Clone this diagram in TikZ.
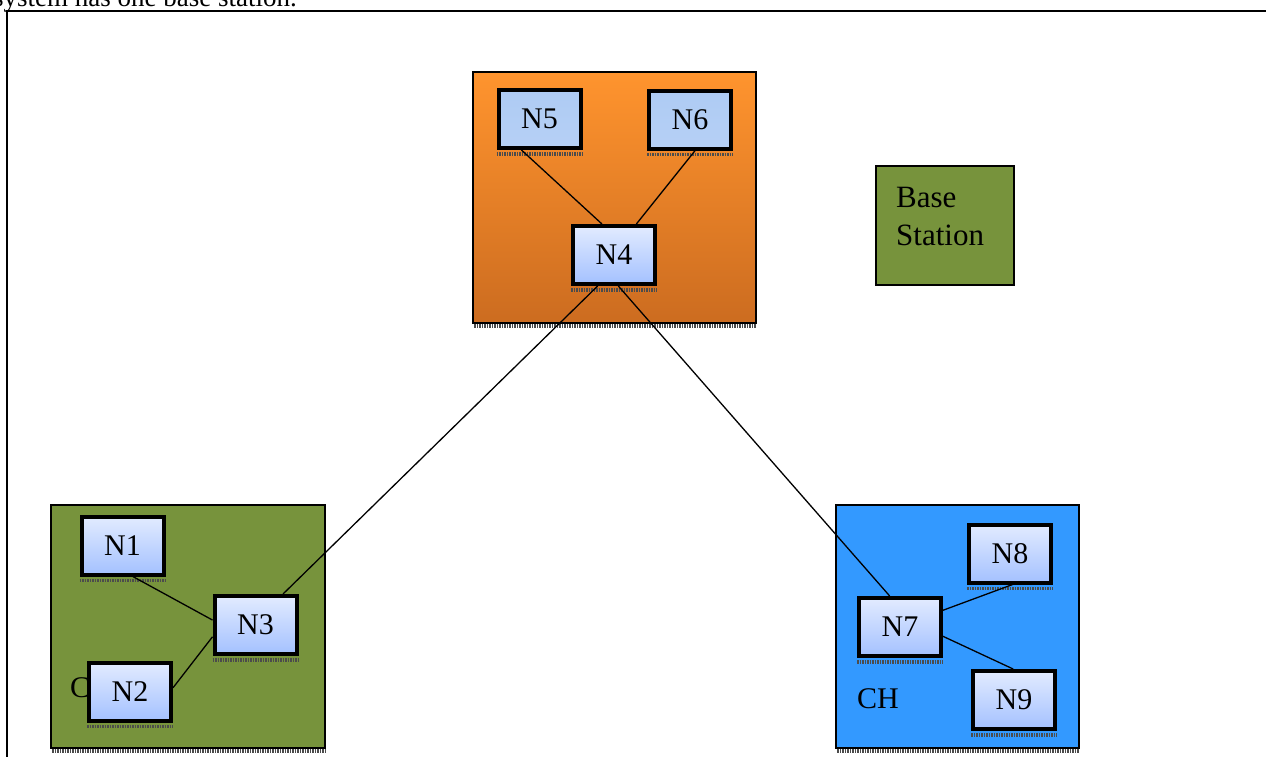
\documentclass[tikz,border=0pt]{standalone}
\usepackage{fontspec}
\setmainfont{Liberation Serif}
\usetikzlibrary{calc}
\definecolor{olive}{HTML}{77933C}
\definecolor{skyblue}{HTML}{3399FF}
\definecolor{orangetop}{HTML}{FF942E}
\definecolor{orangebot}{HTML}{CC6C20}
\definecolor{nodetop}{HTML}{E2EBFF}
\definecolor{nodebot}{HTML}{A4C1FF}
\definecolor{texblue}{HTML}{AECBF4}
\tikzset{
  cluster/.style={draw=black, line width=1.3pt},
  sensor/.style={draw=black, line width=4pt, top color=nodetop, bottom color=nodebot,
    minimum width=82pt, minimum height=58pt, inner sep=0pt, font=\fontsize{30}{34}\selectfont},
  leaf/.style={sensor, fill=texblue, top color=texblue, bottom color=texblue!90!white},
  shadowline/.style={gray!60!black, line width=3.5pt, dash pattern=on 1.5pt off 1pt},
  link/.style={draw=black, line width=1.3pt}
}
\begin{document}
\begin{tikzpicture}[x=1pt,y=-1pt]
  \useasboundingbox (0,0) rectangle (1266,756);
  % caption line, cut by the page top
  \node[anchor=base east, inner sep=0pt, font=\fontsize{27}{32}\selectfont] (caption) at (297,6) {system has one base station.};
  \draw[line width=2pt] (7,790) -- (7,11) -- (1290,11);

  % clusters
  \shade[top color=orangetop, bottom color=orangebot] (473,72) rectangle (756,323);
  \draw[cluster] (473,72) rectangle (756,323);
  \draw[shadowline] (474,326) -- (756,326);
  \filldraw[cluster, fill=olive] (51,505) rectangle (325,748);
  \draw[shadowline] (52,751) -- (325,751);
  \filldraw[cluster, fill=skyblue] (836,505) rectangle (1079,748);
  \draw[shadowline] (837,751) -- (1079,751);
  \filldraw[cluster, fill=olive] (876,166) rectangle (1014,285);
  \node[anchor=west, align=left, inner sep=0pt, font=\fontsize{31}{38}\selectfont] (bs) at (896,216) {Base\\Station};

  \node[anchor=west, inner sep=0pt, font=\fontsize{30}{34}\selectfont] (chA) at (70,688) {CH};
  \node[anchor=west, inner sep=0pt, font=\fontsize{30}{34}\selectfont] (chB) at (857,699) {CH};

  % sensor nodes
  \node[leaf] (n5) at (539.5,119) {N5};
  \node[leaf] (n6) at (690,119.5) {N6};
  \node[sensor] (n4) at (614,255) {N4};
  \node[sensor] (n1) at (122.5,545.5) {N1};
  \node[sensor] (n3) at (255.5,625) {N3};
  \node[sensor] (n2) at (130,691.5) {N2};
  \node[sensor] (n7) at (900,627) {N7};
  \node[sensor] (n8) at (1010,553.5) {N8};
  \node[sensor] (n9) at (1014,700) {N9};
  \foreach \n in {n5,n6,n4,n1,n3,n2,n7,n8,n9}
    \draw[shadowline] ($(\n.south west)+(0,4)$) -- ($(\n.south east)+(0,4)$);

  % links
  \draw[link] ($(n5.south west)!.29!(n5.south east)$) -- ($(n4.north west)!.36!(n4.north east)$);
  \draw[link] ($(n6.south west)!.56!(n6.south east)$) -- ($(n4.north west)!.76!(n4.north east)$);
  \draw[link] ($(n4.south west)!.31!(n4.south east)$) -- ($(n3.north west)!.82!(n3.north east)$);
  \draw[link] ($(n4.south west)!.55!(n4.south east)$) -- ($(n7.north west)!.38!(n7.north east)$);
  \draw[link] ($(n1.south west)!.62!(n1.south east)$) -- ($(n3.north west)!.42!(n3.south west)$);
  \draw[link] ($(n2.north east)!.44!(n2.south east)$) -- ($(n3.north west)!.69!(n3.south west)$);
  \draw[link] ($(n7.north east)!.23!(n7.south east)$) -- ($(n8.south west)!.53!(n8.south east)$);
  \draw[link] ($(n7.north east)!.65!(n7.south east)$) -- ($(n9.north west)!.49!(n9.north east)$);
\end{tikzpicture}
\end{document}
